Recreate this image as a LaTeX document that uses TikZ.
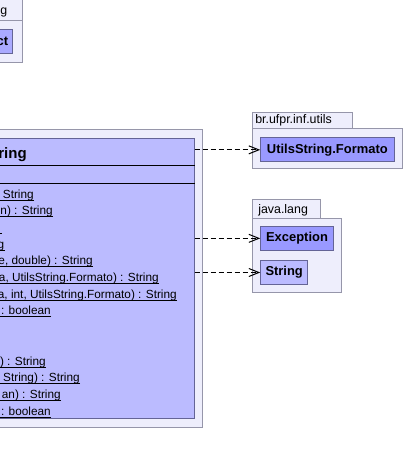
\documentclass[tikz,border=0pt]{standalone}
\usepackage{fontspec}
\setmainfont{Liberation Sans}
\usetikzlibrary{arrows.meta,fit}
\definecolor{pkgfill}{RGB}{238,238,252}
\definecolor{pkgdraw}{RGB}{150,150,170}
\definecolor{clsfill}{RGB}{187,187,255}
\definecolor{clsdark}{RGB}{153,153,255}
\definecolor{clsmid}{RGB}{170,170,255}
\definecolor{clsdraw}{RGB}{100,100,150}
\begin{document}
\begin{tikzpicture}[x=0.75pt,y=-0.75pt,
  pkg/.style={draw=pkgdraw,fill=pkgfill,line width=0.75pt,inner sep=0pt},
  clsbox/.style={draw=clsdraw,line width=0.75pt,inner sep=0pt},
  tablabel/.style={font=\fontsize{9.3pt}{11pt}\selectfont,inner sep=0pt},
  clsname/.style={font=\fontsize{9.7pt}{11pt}\selectfont\bfseries},
  bigname/.style={font=\fontsize{11.25pt}{13pt}\selectfont\bfseries,inner sep=0pt,anchor=base east},
  member/.style={font=\fontsize{8.85pt}{10pt}\selectfont,inner sep=0pt,anchor=base east},
  uline/.style={line width=0.75pt},
  sep/.style={line width=0.75pt,draw=black},
  dep/.style={dash pattern=on 3.75pt off 2.25pt,line width=0.75pt,-{Straight Barb[length=7.5pt,width=6pt]}}]
\useasboundingbox (0,0) rectangle (404,464);
\fill[white] (0,0) rectangle (404,464);

% top-left package
\coordinate (p1a) at (-30,-1); \coordinate (p1b) at (22,20);
\node[pkg,fit=(p1a)(p1b)] (p1tab) {};
\coordinate (p1c) at (-30,20); \coordinate (p1d) at (22,62);
\node[pkg,fit=(p1c)(p1d)] (p1body) {};
\node[tablabel,anchor=base east] (p1lbl) at (7.5,14.5) {g};
\coordinate (o1) at (-20,29); \coordinate (o2) at (12.7,53);
\node[clsbox,fill=clsmid,fit=(o1)(o2)] (obj) {};
\node[clsname,inner sep=0pt,anchor=base east] (objlbl) at (8.5,45) {ct};

% main package and class
\coordinate (p2a) at (-30,129); \coordinate (p2b) at (202,427);
\node[pkg,fit=(p2a)(p2b)] (mainpkg) {};
\coordinate (c1) at (-20,138); \coordinate (c2) at (194,418);
\node[clsbox,fill=clsfill,fit=(c1)(c2)] (cls) {};
\coordinate (s1) at (0,165); \coordinate (s2) at (0,183);
\draw[sep] (cls.west |- s1) -- (cls.east |- s1);
\draw[sep] (cls.west |- s2) -- (cls.east |- s2);
\node[bigname] (clsname) at (27,158) {ring};

\foreach \k/\xr/\txt in {0/34/{String},1/53/{n) : String},3/4.5/{String},
  4/93/{e, double) : String},5/159/{a, UtilsString.Formato) : String},
  6/177/{a, int, UtilsString.Formato) : String},7/51/{: boolean},
  10/46/{) : String},11/80/{String) : String},12/61/{an) : String},
  13/51/{: boolean}}{
  \node[member] (m\k) at (\xr,{198+16.7*\k}) {\txt};
  \draw[uline] ([yshift=-1.5pt]m\k.base east) -- ++(-200,0);
}
\draw[uline] (2,233.4) -- (-10,233.4);

% br.ufpr.inf.utils package
\coordinate (p3a) at (252.7,112); \coordinate (p3b) at (352.7,128);
\node[pkg,fit=(p3a)(p3b)] (p3tab) {};
\coordinate (p3c) at (252.7,128); \coordinate (p3d) at (402,168);
\node[pkg,fit=(p3c)(p3d)] (p3body) {};
\node[tablabel,anchor=base west] (p3lbl) at (255,123) {br.ufpr.inf.utils};
\node[clsbox,fill=clsdark,clsname,minimum width=100pt,minimum height=17.8pt] (fmt) at (327.35,149.85) {UtilsString.Formato};

% java.lang package
\coordinate (p4a) at (252.7,199.7); \coordinate (p4b) at (320.7,218.3);
\node[pkg,fit=(p4a)(p4b)] (p4tab) {};
\coordinate (p4c) at (252.7,218.3); \coordinate (p4d) at (341.7,292.3);
\node[pkg,fit=(p4c)(p4d)] (p4body) {};
\node[tablabel,anchor=base west] (p4lbl) at (258,213) {java.lang};
\node[clsbox,fill=clsdark,clsname,minimum width=54.45pt,minimum height=17.5pt] (exc) at (297,238.35) {Exception};
\node[clsbox,fill=clsfill,clsname,minimum width=35.25pt,minimum height=17.7pt] (str) at (284.2,272.5) {String};

% dependencies
\draw[dep] (fmt.west -| cls.east) -- (fmt.west);
\draw[dep] (exc.west -| cls.east) -- (exc.west);
\draw[dep] (str.west -| cls.east) -- (str.west);
\end{tikzpicture}
\end{document}
